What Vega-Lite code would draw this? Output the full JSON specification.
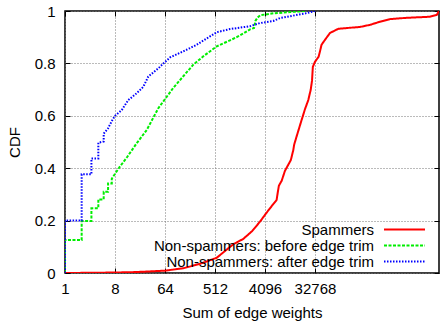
{
  "$schema": "https://vega.github.io/schema/vega-lite/v6.json",
  "width": 374,
  "height": 262,
  "autosize": {"type": "none"},
  "padding": {"left": 65, "top": 11, "right": 2, "bottom": 49},
  "background": "white",
  "config": {
    "font": "Liberation Sans",
    "view": {"stroke": "black", "strokeWidth": 1.5},
    "axis": {
      "labelFont": "Liberation Sans", "titleFont": "Liberation Sans",
      "labelFontSize": 15, "titleFontSize": 15,
      "labelColor": "black", "titleColor": "black", "titleFontWeight": "normal",
      "domain": false, "tickColor": "black", "tickSize": -5, "tickWidth": 1,
      "gridColor": "#777777", "gridDash": [1, 2], "gridWidth": 1, "gridOpacity": 1,
      "labelFlush": false, "labelOverlap": false
    },
    "legend": {
      "orient": "none", "legendX": 332, "legendY": 211,
      "symbolType": "M-4.1,0H4.1", "symbolSize": 100, "symbolStrokeWidth": 2,
      "labelFontSize": 15, "labelFont": "Liberation Sans", "labelColor": "black",
      "labelAlign": "right", "labelOffset": -38, "labelLimit": 400,
      "rowPadding": -0.5, "padding": 0
    }
  },
  "data": {"values": [
    {"s": "Spammers", "i": 1, "x": 1, "y": 0},
    {"s": "Spammers", "i": 2, "x": 4, "y": 0.001},
    {"s": "Spammers", "i": 3, "x": 16, "y": 0.003},
    {"s": "Spammers", "i": 4, "x": 34, "y": 0.006},
    {"s": "Spammers", "i": 5, "x": 64, "y": 0.009},
    {"s": "Spammers", "i": 6, "x": 137, "y": 0.018},
    {"s": "Spammers", "i": 7, "x": 275, "y": 0.035},
    {"s": "Spammers", "i": 8, "x": 550, "y": 0.058},
    {"s": "Spammers", "i": 9, "x": 1100, "y": 0.11},
    {"s": "Spammers", "i": 10, "x": 1660, "y": 0.13},
    {"s": "Spammers", "i": 11, "x": 2400, "y": 0.16},
    {"s": "Spammers", "i": 12, "x": 3330, "y": 0.196},
    {"s": "Spammers", "i": 13, "x": 4300, "y": 0.228},
    {"s": "Spammers", "i": 14, "x": 5400, "y": 0.255},
    {"s": "Spammers", "i": 15, "x": 6650, "y": 0.279},
    {"s": "Spammers", "i": 16, "x": 7000, "y": 0.31},
    {"s": "Spammers", "i": 17, "x": 7300, "y": 0.333},
    {"s": "Spammers", "i": 18, "x": 8200, "y": 0.352},
    {"s": "Spammers", "i": 19, "x": 9400, "y": 0.39},
    {"s": "Spammers", "i": 20, "x": 12000, "y": 0.431},
    {"s": "Spammers", "i": 21, "x": 13300, "y": 0.469},
    {"s": "Spammers", "i": 22, "x": 13800, "y": 0.49},
    {"s": "Spammers", "i": 23, "x": 15200, "y": 0.52},
    {"s": "Spammers", "i": 24, "x": 18800, "y": 0.584},
    {"s": "Spammers", "i": 25, "x": 21600, "y": 0.625},
    {"s": "Spammers", "i": 26, "x": 24800, "y": 0.66},
    {"s": "Spammers", "i": 27, "x": 27500, "y": 0.7},
    {"s": "Spammers", "i": 28, "x": 29000, "y": 0.735},
    {"s": "Spammers", "i": 29, "x": 30000, "y": 0.787},
    {"s": "Spammers", "i": 30, "x": 32768, "y": 0.806},
    {"s": "Spammers", "i": 31, "x": 38000, "y": 0.825},
    {"s": "Spammers", "i": 32, "x": 40300, "y": 0.845},
    {"s": "Spammers", "i": 33, "x": 43000, "y": 0.871},
    {"s": "Spammers", "i": 34, "x": 49700, "y": 0.89},
    {"s": "Spammers", "i": 35, "x": 61100, "y": 0.916},
    {"s": "Spammers", "i": 36, "x": 86500, "y": 0.932},
    {"s": "Spammers", "i": 37, "x": 140000, "y": 0.936},
    {"s": "Spammers", "i": 38, "x": 212000, "y": 0.939},
    {"s": "Spammers", "i": 39, "x": 322000, "y": 0.947},
    {"s": "Spammers", "i": 40, "x": 488000, "y": 0.959},
    {"s": "Spammers", "i": 41, "x": 740000, "y": 0.969},
    {"s": "Spammers", "i": 42, "x": 1480000, "y": 0.974},
    {"s": "Spammers", "i": 43, "x": 3900000, "y": 0.978},
    {"s": "Spammers", "i": 44, "x": 5200000, "y": 0.985},
    {"s": "Spammers", "i": 45, "x": 5700000, "y": 1.0},
    {"s": "Non-spammers: before edge trim", "i": 101, "x": 1, "y": 0},
    {"s": "Non-spammers: before edge trim", "i": 102, "x": 1, "y": 0.126},
    {"s": "Non-spammers: before edge trim", "i": 103, "x": 2, "y": 0.126},
    {"s": "Non-spammers: before edge trim", "i": 104, "x": 2, "y": 0.198},
    {"s": "Non-spammers: before edge trim", "i": 105, "x": 3, "y": 0.198},
    {"s": "Non-spammers: before edge trim", "i": 106, "x": 3, "y": 0.247},
    {"s": "Non-spammers: before edge trim", "i": 107, "x": 4, "y": 0.247},
    {"s": "Non-spammers: before edge trim", "i": 108, "x": 4, "y": 0.281},
    {"s": "Non-spammers: before edge trim", "i": 109, "x": 5, "y": 0.281},
    {"s": "Non-spammers: before edge trim", "i": 110, "x": 5, "y": 0.31},
    {"s": "Non-spammers: before edge trim", "i": 111, "x": 6, "y": 0.31},
    {"s": "Non-spammers: before edge trim", "i": 112, "x": 6, "y": 0.342},
    {"s": "Non-spammers: before edge trim", "i": 113, "x": 7, "y": 0.342},
    {"s": "Non-spammers: before edge trim", "i": 114, "x": 7, "y": 0.36},
    {"s": "Non-spammers: before edge trim", "i": 115, "x": 9.8, "y": 0.406},
    {"s": "Non-spammers: before edge trim", "i": 116, "x": 13, "y": 0.44},
    {"s": "Non-spammers: before edge trim", "i": 117, "x": 19.7, "y": 0.495},
    {"s": "Non-spammers: before edge trim", "i": 118, "x": 30, "y": 0.546},
    {"s": "Non-spammers: before edge trim", "i": 119, "x": 48.5, "y": 0.629},
    {"s": "Non-spammers: before edge trim", "i": 120, "x": 90, "y": 0.706},
    {"s": "Non-spammers: before edge trim", "i": 121, "x": 137, "y": 0.751},
    {"s": "Non-spammers: before edge trim", "i": 122, "x": 208, "y": 0.795},
    {"s": "Non-spammers: before edge trim", "i": 123, "x": 315, "y": 0.827},
    {"s": "Non-spammers: before edge trim", "i": 124, "x": 550, "y": 0.865},
    {"s": "Non-spammers: before edge trim", "i": 125, "x": 955, "y": 0.888},
    {"s": "Non-spammers: before edge trim", "i": 126, "x": 1260, "y": 0.9},
    {"s": "Non-spammers: before edge trim", "i": 127, "x": 1660, "y": 0.914},
    {"s": "Non-spammers: before edge trim", "i": 128, "x": 2200, "y": 0.93},
    {"s": "Non-spammers: before edge trim", "i": 129, "x": 2600, "y": 0.935},
    {"s": "Non-spammers: before edge trim", "i": 130, "x": 2750, "y": 0.962},
    {"s": "Non-spammers: before edge trim", "i": 131, "x": 3000, "y": 0.975},
    {"s": "Non-spammers: before edge trim", "i": 132, "x": 3400, "y": 0.984},
    {"s": "Non-spammers: before edge trim", "i": 133, "x": 5790, "y": 0.991},
    {"s": "Non-spammers: before edge trim", "i": 134, "x": 11600, "y": 0.996},
    {"s": "Non-spammers: before edge trim", "i": 135, "x": 23000, "y": 1.0},
    {"s": "Non-spammers: after edge trim", "i": 201, "x": 1, "y": 0},
    {"s": "Non-spammers: after edge trim", "i": 202, "x": 1, "y": 0.2},
    {"s": "Non-spammers: after edge trim", "i": 203, "x": 2, "y": 0.2},
    {"s": "Non-spammers: after edge trim", "i": 204, "x": 2, "y": 0.377},
    {"s": "Non-spammers: after edge trim", "i": 205, "x": 3, "y": 0.377},
    {"s": "Non-spammers: after edge trim", "i": 206, "x": 3, "y": 0.437},
    {"s": "Non-spammers: after edge trim", "i": 207, "x": 4, "y": 0.437},
    {"s": "Non-spammers: after edge trim", "i": 208, "x": 4, "y": 0.497},
    {"s": "Non-spammers: after edge trim", "i": 209, "x": 5, "y": 0.502},
    {"s": "Non-spammers: after edge trim", "i": 210, "x": 5, "y": 0.532},
    {"s": "Non-spammers: after edge trim", "i": 211, "x": 6, "y": 0.552},
    {"s": "Non-spammers: after edge trim", "i": 212, "x": 7, "y": 0.58},
    {"s": "Non-spammers: after edge trim", "i": 213, "x": 8, "y": 0.6},
    {"s": "Non-spammers: after edge trim", "i": 214, "x": 10.6, "y": 0.622},
    {"s": "Non-spammers: after edge trim", "i": 215, "x": 13.9, "y": 0.66},
    {"s": "Non-spammers: after edge trim", "i": 216, "x": 19.7, "y": 0.686},
    {"s": "Non-spammers: after edge trim", "i": 217, "x": 26, "y": 0.711},
    {"s": "Non-spammers: after edge trim", "i": 218, "x": 32, "y": 0.75},
    {"s": "Non-spammers: after edge trim", "i": 219, "x": 48.5, "y": 0.781},
    {"s": "Non-spammers: after edge trim", "i": 220, "x": 60, "y": 0.8},
    {"s": "Non-spammers: after edge trim", "i": 221, "x": 79, "y": 0.823},
    {"s": "Non-spammers: after edge trim", "i": 222, "x": 137, "y": 0.846},
    {"s": "Non-spammers: after edge trim", "i": 223, "x": 239, "y": 0.871},
    {"s": "Non-spammers: after edge trim", "i": 224, "x": 416, "y": 0.903},
    {"s": "Non-spammers: after edge trim", "i": 225, "x": 550, "y": 0.919},
    {"s": "Non-spammers: after edge trim", "i": 226, "x": 955, "y": 0.931},
    {"s": "Non-spammers: after edge trim", "i": 227, "x": 2200, "y": 0.942},
    {"s": "Non-spammers: after edge trim", "i": 228, "x": 3330, "y": 0.954},
    {"s": "Non-spammers: after edge trim", "i": 229, "x": 5790, "y": 0.962},
    {"s": "Non-spammers: after edge trim", "i": 230, "x": 7640, "y": 0.973},
    {"s": "Non-spammers: after edge trim", "i": 231, "x": 11600, "y": 0.98},
    {"s": "Non-spammers: after edge trim", "i": 232, "x": 23170, "y": 0.992},
    {"s": "Non-spammers: after edge trim", "i": 233, "x": 32768, "y": 1.0}
  ]},
  "layer": [
    {
      "mark": {"type": "line", "strokeWidth": 2, "clip": true, "strokeCap": "butt"},
      "encoding": {
        "x": {"field": "x", "type": "quantitative",
          "scale": {"type": "log", "base": 2, "domain": [1, 5700000], "nice": false},
          "axis": {"orient": "bottom", "values": [1, 8, 64, 512, 4096, 32768], "format": "d",
            "title": "Sum of edge weights", "labelPadding": 13, "titleY": 44, "titleBaseline": "alphabetic"}},
        "y": {"field": "y", "type": "quantitative",
          "scale": {"domain": [0, 1], "nice": false},
          "axis": {"orient": "left", "values": [0, 0.2, 0.4, 0.6, 0.8, 1], "format": "~g",
            "title": "CDF", "labelPadding": 15, "titleX": -46, "titleY": 131, "titleBaseline": "alphabetic", "titleAngle": -90}},
        "color": {"field": "s", "type": "nominal",
          "scale": {"domain": ["Spammers", "Non-spammers: before edge trim", "Non-spammers: after edge trim"],
            "range": ["#ff0000", "#00ee00", "#0000ff"]},
          "legend": {"title": null}},
        "strokeDash": {"field": "s", "type": "nominal",
          "scale": {"domain": ["Spammers", "Non-spammers: before edge trim", "Non-spammers: after edge trim"],
            "range": [[1, 0], [3, 1.5], [1.5, 1.5]]},
          "legend": {"title": null}},
        "order": {"field": "i", "type": "quantitative"}
      }
    },
    {
      "mark": {"type": "line", "opacity": 0},
      "encoding": {
        "x": {"field": "x", "type": "quantitative",
          "axis": {"orient": "top", "values": [1, 8, 64, 512, 4096, 32768], "labels": false, "grid": false, "title": null}},
        "y": {"field": "y", "type": "quantitative",
          "axis": {"orient": "right", "values": [0, 0.2, 0.4, 0.6, 0.8, 1], "labels": false, "grid": false, "title": null}},
        "detail": {"field": "s", "type": "nominal"},
        "order": {"field": "i", "type": "quantitative"}
      }
    }
  ],
  "resolve": {"axis": {"x": "independent", "y": "independent"}}
}
